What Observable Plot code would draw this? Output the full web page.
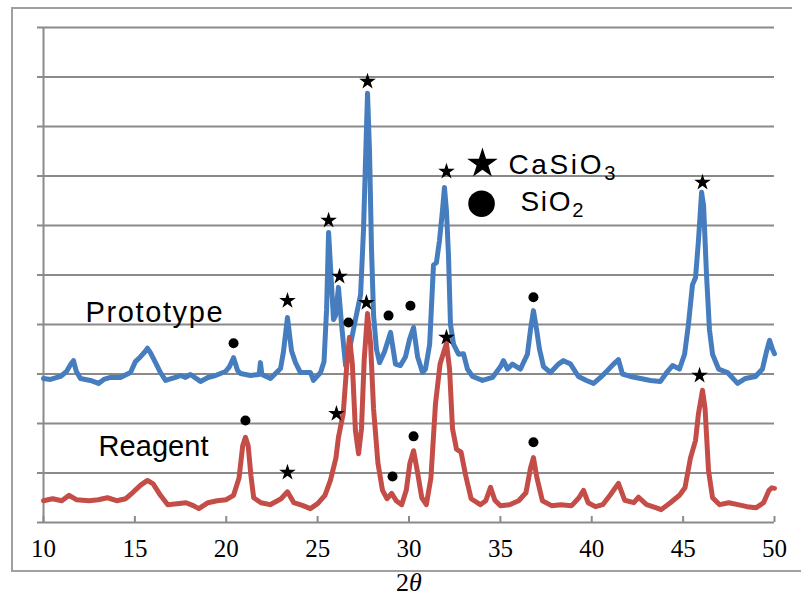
<!DOCTYPE html>
<html><head><meta charset="utf-8">
<script src="https://cdn.jsdelivr.net/npm/d3@7"></script>
<script src="https://cdn.jsdelivr.net/npm/@observablehq/plot@0.6"></script>
<style>
body{margin:0;background:#fff;}
#wrap{position:relative;width:801px;height:596px;overflow:hidden;background:#fff;}
#wrap svg{position:absolute;left:0;top:0;}
.fl{position:absolute;background:#a0a0a0;}
</style></head><body><div id="wrap"></div>
<script>
// 2θ (deg) vs intensity (arbitrary units, one grid step = 1)
const prototype = [[10.00,2.91],[10.38,2.89],[10.93,2.95],[11.26,3.05],[11.50,3.20],[11.64,3.27],[11.80,3.05],[12.02,2.91],[12.57,2.87],[13.01,2.81],[13.30,2.89],[13.67,2.93],[14.21,2.93],[14.76,3.03],[15.03,3.25],[15.31,3.35],[15.55,3.45],[15.69,3.52],[15.85,3.43],[16.13,3.23],[16.40,3.03],[16.68,2.87],[17.22,2.93],[17.50,2.97],[17.77,2.93],[18.04,2.99],[18.59,2.85],[19.00,2.93],[19.41,2.97],[19.96,3.05],[20.18,3.15],[20.40,3.33],[20.62,3.07],[20.78,3.01],[21.33,2.97],[21.80,2.99],[21.87,3.23],[21.95,2.99],[22.42,2.91],[22.97,3.11],[23.13,3.45],[23.35,4.14],[23.57,3.47],[23.79,3.23],[24.06,3.03],[24.61,3.03],[24.77,2.87],[25.16,3.03],[25.35,3.25],[25.49,4.30],[25.60,5.86],[25.76,4.80],[25.87,4.10],[25.98,4.18],[26.14,4.75],[26.31,4.00],[26.53,3.17],[26.80,3.60],[27.07,4.10],[27.35,4.60],[27.51,5.90],[27.62,7.30],[27.73,8.67],[27.84,7.50],[27.95,5.50],[28.06,4.20],[28.22,3.50],[28.39,3.23],[28.66,3.45],[28.99,3.84],[29.26,3.20],[29.53,3.17],[29.81,3.35],[30.03,3.70],[30.25,3.94],[30.47,3.35],[30.74,3.03],[30.90,3.10],[31.13,3.60],[31.34,5.20],[31.50,5.25],[31.67,5.70],[31.83,6.30],[31.94,6.77],[32.05,6.30],[32.16,5.40],[32.27,4.00],[32.44,3.60],[32.71,3.40],[32.98,3.41],[33.20,3.10],[33.48,2.95],[34.02,2.87],[34.57,2.93],[35.01,3.15],[35.17,3.27],[35.39,3.10],[35.66,3.20],[36.10,3.10],[36.48,3.40],[36.65,3.90],[36.81,4.28],[36.98,3.90],[37.14,3.50],[37.36,3.15],[37.74,3.03],[38.18,3.20],[38.45,3.27],[38.84,3.20],[39.27,2.95],[39.71,2.87],[40.10,2.81],[40.48,2.93],[40.86,3.07],[41.19,3.20],[41.46,3.29],[41.68,3.00],[42.12,2.95],[42.67,2.91],[43.21,2.87],[43.76,2.85],[44.14,3.05],[44.42,3.17],[44.80,3.10],[45.08,3.40],[45.29,4.00],[45.51,4.80],[45.68,4.95],[45.84,5.70],[46.01,6.67],[46.12,6.40],[46.28,5.00],[46.44,3.90],[46.61,3.40],[46.94,3.10],[47.43,3.03],[47.98,2.81],[48.41,2.91],[48.96,2.95],[49.34,3.10],[49.56,3.45],[49.73,3.68],[49.89,3.50],[50.00,3.41]];
const reagent = [[10.00,0.44],[10.50,0.48],[11.00,0.44],[11.40,0.55],[11.80,0.46],[12.50,0.44],[13.00,0.46],[13.50,0.50],[14.00,0.44],[14.50,0.48],[14.90,0.61],[15.30,0.75],[15.69,0.85],[16.00,0.78],[16.40,0.55],[16.80,0.36],[17.30,0.38],[17.80,0.40],[18.20,0.34],[18.50,0.28],[19.00,0.40],[19.50,0.44],[20.00,0.46],[20.40,0.55],[20.70,0.90],[20.90,1.55],[21.05,1.72],[21.20,1.55],[21.35,0.95],[21.50,0.50],[21.90,0.40],[22.40,0.36],[23.00,0.48],[23.35,0.62],[23.70,0.40],[24.20,0.34],[24.60,0.28],[25.00,0.38],[25.40,0.55],[25.70,0.85],[26.00,1.30],[26.14,1.72],[26.40,2.20],[26.60,3.20],[26.74,3.74],[26.90,3.20],[27.07,1.85],[27.24,1.39],[27.40,1.90],[27.55,3.30],[27.73,4.22],[27.90,3.60],[28.06,2.30],[28.30,1.20],[28.55,0.65],[28.80,0.48],[29.05,0.59],[29.30,0.44],[29.60,0.36],[29.85,0.65],[30.05,1.20],[30.25,1.45],[30.45,1.05],[30.70,0.50],[30.95,0.36],[31.20,0.90],[31.45,2.40],[31.70,3.20],[32.05,3.62],[32.22,3.10],[32.38,1.90],[32.60,1.48],[32.85,1.42],[33.10,0.95],[33.40,0.48],[33.90,0.36],[34.20,0.44],[34.46,0.71],[34.70,0.45],[35.00,0.34],[35.50,0.36],[36.00,0.44],[36.40,0.60],[36.65,1.10],[36.81,1.31],[37.00,0.90],[37.30,0.44],[37.80,0.34],[38.30,0.36],[38.90,0.34],[39.30,0.50],[39.55,0.65],[39.80,0.40],[40.20,0.32],[40.60,0.36],[41.00,0.55],[41.46,0.79],[41.80,0.45],[42.30,0.40],[42.56,0.51],[43.00,0.36],[43.50,0.30],[43.80,0.26],[44.30,0.40],[44.80,0.55],[45.10,0.70],[45.40,1.30],[45.68,1.66],[45.84,2.20],[46.06,2.67],[46.20,2.30],[46.39,1.05],[46.61,0.50],[47.00,0.36],[47.50,0.40],[48.00,0.36],[48.50,0.32],[49.00,0.30],[49.40,0.40],[49.70,0.65],[49.85,0.70],[50.00,0.69]];
// peak markers
const caSiO3Marks = [[23.35,4.48],[25.60,6.10],[26.20,4.97],[27.73,8.91],[27.67,4.44],[26.03,2.20],[23.35,1.01],[32.05,7.09],[32.05,3.74],[46.06,6.87],[45.90,2.97]];
const sio2Marks = [[20.40,3.62],[26.69,4.04],[28.88,4.18],[30.08,4.38],[36.81,4.55],[21.05,2.06],[29.10,0.93],[30.25,1.74],[36.81,1.62]];
// legend & labels
const legendStar = [[34.02,7.25]];
const legendDot = [[33.97,6.44]];
const legendLabels = [{text:"CaSiO3", x:35.44, y:7.23},{text:"SiO2", x:36.10, y:6.48}];
const seriesLabels = [{text:"Prototype", x:12.30, y:4.24},{text:"Reagent", x:13.01, y:1.54}];
const xTicks = [10,15,20,25,30,35,40,45,50];
const gridLevels = [0,1,2,3,4,5,6,7,8,9,10];
const xLabel = "2θ";

const gray = "#8a8a8a";
const serif = "'Liberation Serif','Times New Roman',serif";
const plot = Plot.plot({
  width: 801, height: 596,
  marginLeft: 43, marginRight: 27, marginTop: 27, marginBottom: 74,
  x: {domain: [10, 50], axis: null},
  y: {domain: [0, 10], axis: null},
  style: {fontFamily: "'Liberation Sans',Arial,sans-serif", background: "transparent", color: "#000"},
  marks: [
    Plot.ruleY(gridLevels, {x1: 9.67, x2: 50, stroke: gray, strokeWidth: 2}),
    Plot.ruleX([10], {y1: 0, y2: 10, stroke: gray, strokeWidth: 2}),
    Plot.ruleX(xTicks, {y1: 0, y2: 0.12, stroke: gray, strokeWidth: 2}),
    Plot.text(xTicks, {x: d => d, y: 0, dy: 26, text: d => String(d), fontSize: 25, fontFamily: serif, fill: "#000"}),
    Plot.text([xLabel], {frameAnchor: "bottom", dy: 68, fontSize: 26, fontFamily: serif, fill: "#000", text: d => d}),
    Plot.line(prototype, {x: d => d[0], y: d => d[1], stroke: "#467dbe", strokeWidth: 5, strokeLinejoin: "round"}),
    Plot.line(reagent, {x: d => d[0], y: d => d[1], stroke: "#c44d48", strokeWidth: 5, strokeLinejoin: "round"}),
    Plot.dot(caSiO3Marks, {x: d => d[0], y: d => d[1], symbol: "star", r: 5.2, fill: "#000"}),
    Plot.dot(sio2Marks, {x: d => d[0], y: d => d[1], r: 5, fill: "#000"}),
    Plot.dot(legendStar, {x: d => d[0], y: d => d[1], symbol: "star", r: 9.6, fill: "#000"}),
    Plot.dot(legendDot, {x: d => d[0], y: d => d[1], r: 13.3, fill: "#000"}),
    Plot.text(legendLabels, {x: "x", y: "y", text: "text", textAnchor: "start", fontSize: 28, fill: "#000"}),
    Plot.text(seriesLabels, {x: "x", y: "y", text: "text", textAnchor: "start", fontSize: 29, fill: "#000"})
  ]
});
const wrap = document.getElementById("wrap");
wrap.appendChild(plot);
[["fl",11,7,781,1.5],["fl",11,7,1.5,564],["fl",11,570,790,1.5]].forEach(([c,l,t,w,h])=>{
  const d=document.createElement("div"); d.className=c;
  Object.assign(d.style,{left:l+"px",top:t+"px",width:w+"px",height:h+"px"}); wrap.appendChild(d);
});
const targets = {"Prototype":137, "Reagent":110, "CaSiO3":107, "SiO2":63};
d3.select(plot).selectAll("text").each(function(){
  const s = d3.select(this), t = this.textContent;
  if (t === xLabel) {
    s.text(""); s.append("tspan").text("2"); s.append("tspan").attr("font-style","italic").text("θ");
  } else if (t === "CaSiO3" || t === "SiO2") {
    s.text(""); s.append("tspan").text(t.slice(0,-1));
    s.append("tspan").attr("dy","0.3em").attr("font-size","0.72em").text(t.slice(-1));
  }
  if (targets[t]) {
    const len = this.getComputedTextLength();
    const n = t.length - 1;
    s.style("letter-spacing", ((targets[t]-len)/n).toFixed(2)+"px");
  }
});
</script></body></html>
